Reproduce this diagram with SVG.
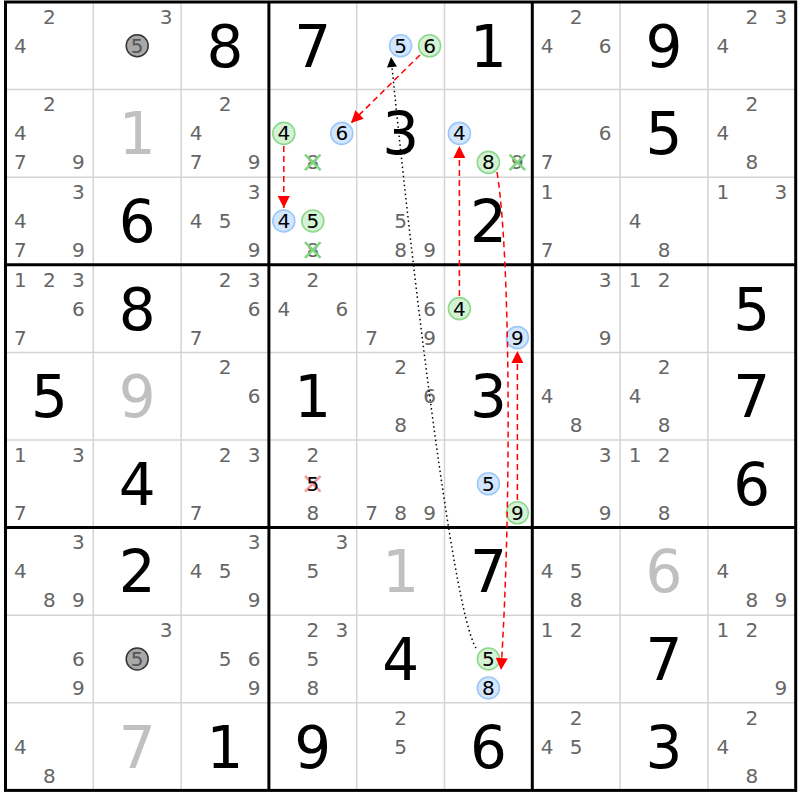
<svg xmlns="http://www.w3.org/2000/svg" width="800" height="800" viewBox="0 0 800 800">
<style>
text{font-family:"DejaVu Sans","Liberation Sans",sans-serif;text-anchor:middle}
.c{font-size:20px;fill:#666}
.g{font-size:58px;fill:#000}
.s{font-size:58px;fill:#c0c0c0}
.k{font-size:20px;fill:#000}
.cb{fill:#d2e6ff;stroke:#9cc8f5;stroke-width:1.6}
.cg{fill:#d4f2d4;stroke:#8ed88e;stroke-width:1.6}
.cz{fill:#a8a8a8;stroke:#333;stroke-width:1.5}
.thin{stroke:#d4d4d4;stroke-width:1.5}
.thick{stroke:#000;stroke-width:3}
.xg{stroke:#7fd67f;stroke-width:2.5}
.xr{stroke:#f49a9a;stroke-width:2.5}
.rd{fill:none;stroke:#f00;stroke-width:1.5;stroke-dasharray:6 4}
.bd{fill:none;stroke:#000;stroke-width:1.5;stroke-dasharray:1.5 3}
</style>
<defs>
<marker id="ar" viewBox="0 0 10 10" refX="10" refY="5" markerWidth="16" markerHeight="12" markerUnits="userSpaceOnUse" orient="auto"><path d="M0,0 L10,5 L0,10 z" fill="#f00"/></marker>
<marker id="ab" viewBox="0 0 10 10" refX="10" refY="5" markerWidth="14" markerHeight="10" markerUnits="userSpaceOnUse" orient="auto"><path d="M0,0 L10,5 L0,10 z" fill="#000"/></marker>
</defs>
<rect x="0" y="0" width="800" height="800" fill="#fff"/>
<g id="grid">
<g class="thin">
<line x1="93.3" y1="2" x2="93.3" y2="790.4"/><line x1="181.1" y1="2" x2="181.1" y2="790.4"/>
<line x1="356.7" y1="2" x2="356.7" y2="790.4"/><line x1="444.5" y1="2" x2="444.5" y2="790.4"/>
<line x1="620.1" y1="2" x2="620.1" y2="790.4"/><line x1="707.9" y1="2" x2="707.9" y2="790.4"/>
<line x1="5.5" y1="89.6" x2="795.7" y2="89.6"/><line x1="5.5" y1="177.2" x2="795.7" y2="177.2"/>
<line x1="5.5" y1="352.4" x2="795.7" y2="352.4"/><line x1="5.5" y1="440" x2="795.7" y2="440"/>
<line x1="5.5" y1="615.2" x2="795.7" y2="615.2"/><line x1="5.5" y1="702.8" x2="795.7" y2="702.8"/>
</g>
<g class="thick">
<line x1="268.9" y1="2" x2="268.9" y2="790.4"/><line x1="532.3" y1="2" x2="532.3" y2="790.4"/>
<line x1="5.5" y1="264.8" x2="795.7" y2="264.8"/><line x1="5.5" y1="527.6" x2="795.7" y2="527.6"/>
<rect x="5.5" y="2" width="790.2" height="788.4" fill="none"/>
</g>
</g>
<g id="row0">
<text class="c" x="49.4" y="23.8">2</text><text class="c" x="20.4" y="52.8">4</text>
<text class="c" x="166.2" y="23.8">3</text><circle class="cz" cx="137.2" cy="45.8" r="11"/><text class="c" x="137.2" y="52.8" style="fill:#555">5</text>
<text class="g" x="225" y="66.8">8</text>
<text class="g" x="312.8" y="66.8">7</text>
<circle class="cb" cx="400.6" cy="45.8" r="11"/><text class="k" x="400.6" y="52.8">5</text>
<circle class="cg" cx="429.6" cy="45.8" r="11"/><text class="k" x="429.6" y="52.8">6</text>
<text class="g" x="488.4" y="66.8">1</text>
<text class="c" x="576.2" y="23.8">2</text><text class="c" x="547.2" y="52.8">4</text><text class="c" x="605.2" y="52.8">6</text>
<text class="g" x="664" y="66.8">9</text>
<text class="c" x="751.8" y="23.8">2</text><text class="c" x="780.8" y="23.8">3</text><text class="c" x="722.8" y="52.8">4</text>
</g>
<g id="row1">
<text class="c" x="49.4" y="111.4">2</text><text class="c" x="20.4" y="140.4">4</text><text class="c" x="20.4" y="169.4">7</text><text class="c" x="78.4" y="169.4">9</text>
<text class="s" x="137.2" y="154.4">1</text>
<text class="c" x="225" y="111.4">2</text><text class="c" x="196" y="140.4">4</text><text class="c" x="196" y="169.4">7</text><text class="c" x="254" y="169.4">9</text>
<circle class="cg" cx="283.8" cy="133.4" r="11"/><text class="k" x="283.8" y="140.4">4</text>
<circle class="cb" cx="341.8" cy="133.4" r="11"/><text class="k" x="341.8" y="140.4">6</text>
<text class="c" x="312.8" y="169.4">8</text><path class="xg" d="M305,154.6 L320.6,170.2 M320.6,154.6 L305,170.2"/>
<text class="g" x="400.6" y="154.4">3</text>
<circle class="cb" cx="459.4" cy="133.4" r="11"/><text class="k" x="459.4" y="140.4">4</text>
<circle class="cg" cx="488.4" cy="162.4" r="11"/><text class="k" x="488.4" y="169.4">8</text>
<text class="c" x="517.4" y="169.4">9</text><path class="xg" d="M509.6,154.6 L525.2,170.2 M525.2,154.6 L509.6,170.2"/>
<text class="c" x="605.2" y="140.4">6</text><text class="c" x="547.2" y="169.4">7</text>
<text class="g" x="664" y="154.4">5</text>
<text class="c" x="751.8" y="111.4">2</text><text class="c" x="722.8" y="140.4">4</text><text class="c" x="751.8" y="169.4">8</text>
</g>
<g id="row2">
<text class="c" x="78.4" y="199">3</text><text class="c" x="20.4" y="228">4</text><text class="c" x="20.4" y="257">7</text><text class="c" x="78.4" y="257">9</text>
<text class="g" x="137.2" y="242">6</text>
<text class="c" x="254" y="199">3</text><text class="c" x="196" y="228">4</text><text class="c" x="225" y="228">5</text><text class="c" x="254" y="257">9</text>
<circle class="cb" cx="283.8" cy="221" r="11"/><text class="k" x="283.8" y="228">4</text>
<circle class="cg" cx="312.8" cy="221" r="11"/><text class="k" x="312.8" y="228">5</text>
<text class="c" x="312.8" y="257">8</text><path class="xg" d="M305,242.2 L320.6,257.8 M320.6,242.2 L305,257.8"/>
<text class="c" x="400.6" y="228">5</text><text class="c" x="400.6" y="257">8</text><text class="c" x="429.6" y="257">9</text>
<text class="g" x="488.4" y="242">2</text>
<text class="c" x="547.2" y="199">1</text><text class="c" x="547.2" y="257">7</text>
<text class="c" x="635" y="228">4</text><text class="c" x="664" y="257">8</text>
<text class="c" x="722.8" y="199">1</text><text class="c" x="780.8" y="199">3</text>
</g>
<g id="row3">
<text class="c" x="20.4" y="286.6">1</text><text class="c" x="49.4" y="286.6">2</text><text class="c" x="78.4" y="286.6">3</text><text class="c" x="78.4" y="315.6">6</text><text class="c" x="20.4" y="344.6">7</text>
<text class="g" x="137.2" y="329.6">8</text>
<text class="c" x="225" y="286.6">2</text><text class="c" x="254" y="286.6">3</text><text class="c" x="254" y="315.6">6</text><text class="c" x="196" y="344.6">7</text>
<text class="c" x="312.8" y="286.6">2</text><text class="c" x="283.8" y="315.6">4</text><text class="c" x="341.8" y="315.6">6</text>
<text class="c" x="429.6" y="315.6">6</text><text class="c" x="371.6" y="344.6">7</text><text class="c" x="429.6" y="344.6">9</text>
<circle class="cg" cx="459.4" cy="308.6" r="11"/><text class="k" x="459.4" y="315.6">4</text>
<circle class="cb" cx="517.4" cy="337.6" r="11"/><text class="k" x="517.4" y="344.6">9</text>
<text class="c" x="605.2" y="286.6">3</text><text class="c" x="605.2" y="344.6">9</text>
<text class="c" x="635" y="286.6">1</text><text class="c" x="664" y="286.6">2</text>
<text class="g" x="751.8" y="329.6">5</text>
</g>
<g id="row4">
<text class="g" x="49.4" y="417.2">5</text>
<text class="s" x="137.2" y="417.2">9</text>
<text class="c" x="225" y="374.2">2</text><text class="c" x="254" y="403.2">6</text>
<text class="g" x="312.8" y="417.2">1</text>
<text class="c" x="400.6" y="374.2">2</text><text class="c" x="429.6" y="403.2">6</text><text class="c" x="400.6" y="432.2">8</text>
<text class="g" x="488.4" y="417.2">3</text>
<text class="c" x="547.2" y="403.2">4</text><text class="c" x="576.2" y="432.2">8</text>
<text class="c" x="664" y="374.2">2</text><text class="c" x="635" y="403.2">4</text><text class="c" x="664" y="432.2">8</text>
<text class="g" x="751.8" y="417.2">7</text>
</g>
<g id="row5">
<text class="c" x="20.4" y="461.8">1</text><text class="c" x="78.4" y="461.8">3</text><text class="c" x="20.4" y="519.8">7</text>
<text class="g" x="137.2" y="504.8">4</text>
<text class="c" x="225" y="461.8">2</text><text class="c" x="254" y="461.8">3</text><text class="c" x="196" y="519.8">7</text>
<text class="c" x="312.8" y="461.8">2</text><path class="xr" d="M305,476 L320.6,491.6 M320.6,476 L305,491.6"/><text class="k" x="312.8" y="490.8">5</text><text class="c" x="312.8" y="519.8">8</text>
<text class="c" x="371.6" y="519.8">7</text><text class="c" x="400.6" y="519.8">8</text><text class="c" x="429.6" y="519.8">9</text>
<circle class="cb" cx="488.4" cy="483.8" r="11"/><text class="k" x="488.4" y="490.8">5</text>
<circle class="cg" cx="517.4" cy="512.8" r="11"/><text class="k" x="517.4" y="519.8">9</text>
<text class="c" x="605.2" y="461.8">3</text><text class="c" x="605.2" y="519.8">9</text>
<text class="c" x="635" y="461.8">1</text><text class="c" x="664" y="461.8">2</text><text class="c" x="664" y="519.8">8</text>
<text class="g" x="751.8" y="504.8">6</text>
</g>
<g id="row6">
<text class="c" x="78.4" y="549.4">3</text><text class="c" x="20.4" y="578.4">4</text><text class="c" x="49.4" y="607.4">8</text><text class="c" x="78.4" y="607.4">9</text>
<text class="g" x="137.2" y="592.4">2</text>
<text class="c" x="254" y="549.4">3</text><text class="c" x="196" y="578.4">4</text><text class="c" x="225" y="578.4">5</text><text class="c" x="254" y="607.4">9</text>
<text class="c" x="341.8" y="549.4">3</text><text class="c" x="312.8" y="578.4">5</text>
<text class="s" x="400.6" y="592.4">1</text>
<text class="g" x="488.4" y="592.4">7</text>
<text class="c" x="547.2" y="578.4">4</text><text class="c" x="576.2" y="578.4">5</text><text class="c" x="576.2" y="607.4">8</text>
<text class="s" x="664" y="592.4">6</text>
<text class="c" x="722.8" y="578.4">4</text><text class="c" x="751.8" y="607.4">8</text><text class="c" x="780.8" y="607.4">9</text>
</g>
<g id="row7">
<text class="c" x="78.4" y="666">6</text><text class="c" x="78.4" y="695">9</text>
<text class="c" x="166.2" y="637">3</text><circle class="cz" cx="137.2" cy="659" r="11"/><text class="c" x="137.2" y="666" style="fill:#555">5</text>
<text class="c" x="225" y="666">5</text><text class="c" x="254" y="666">6</text><text class="c" x="254" y="695">9</text>
<text class="c" x="312.8" y="637">2</text><text class="c" x="341.8" y="637">3</text><text class="c" x="312.8" y="666">5</text><text class="c" x="312.8" y="695">8</text>
<text class="g" x="400.6" y="680">4</text>
<circle class="cg" cx="488.4" cy="659" r="11"/><text class="k" x="488.4" y="666">5</text>
<circle class="cb" cx="488.4" cy="688" r="11"/><text class="k" x="488.4" y="695">8</text>
<text class="c" x="547.2" y="637">1</text><text class="c" x="576.2" y="637">2</text>
<text class="g" x="664" y="680">7</text>
<text class="c" x="722.8" y="637">1</text><text class="c" x="751.8" y="637">2</text><text class="c" x="780.8" y="695">9</text>
</g>
<g id="row8">
<text class="c" x="20.4" y="753.6">4</text><text class="c" x="49.4" y="782.6">8</text>
<text class="s" x="137.2" y="767.6">7</text>
<text class="g" x="225" y="767.6">1</text>
<text class="g" x="312.8" y="767.6">9</text>
<text class="c" x="400.6" y="724.6">2</text><text class="c" x="400.6" y="753.6">5</text>
<text class="g" x="488.4" y="767.6">6</text>
<text class="c" x="576.2" y="724.6">2</text><text class="c" x="547.2" y="753.6">4</text><text class="c" x="576.2" y="753.6">5</text>
<text class="g" x="664" y="767.6">3</text>
<text class="c" x="751.8" y="724.6">2</text><text class="c" x="722.8" y="753.6">4</text><text class="c" x="751.8" y="782.6">8</text>
</g>
<g id="connectors">
<path class="bd" d="M476,648 C452,610 410,250 391,57" marker-end="url(#ab)"/>
<path class="rd" d="M420,55 L351,123" marker-end="url(#ar)"/>
<path class="rd" d="M283.8,146 L283.8,208" marker-end="url(#ar)"/>
<path class="rd" d="M459.4,296 L459.4,146" marker-end="url(#ar)"/>
<path class="rd" d="M497,172 C510,250 512,500 501,670" marker-end="url(#ar)"/>
<path class="rd" d="M517.4,500 L517.4,351" marker-end="url(#ar)"/>
</g>
</svg>
